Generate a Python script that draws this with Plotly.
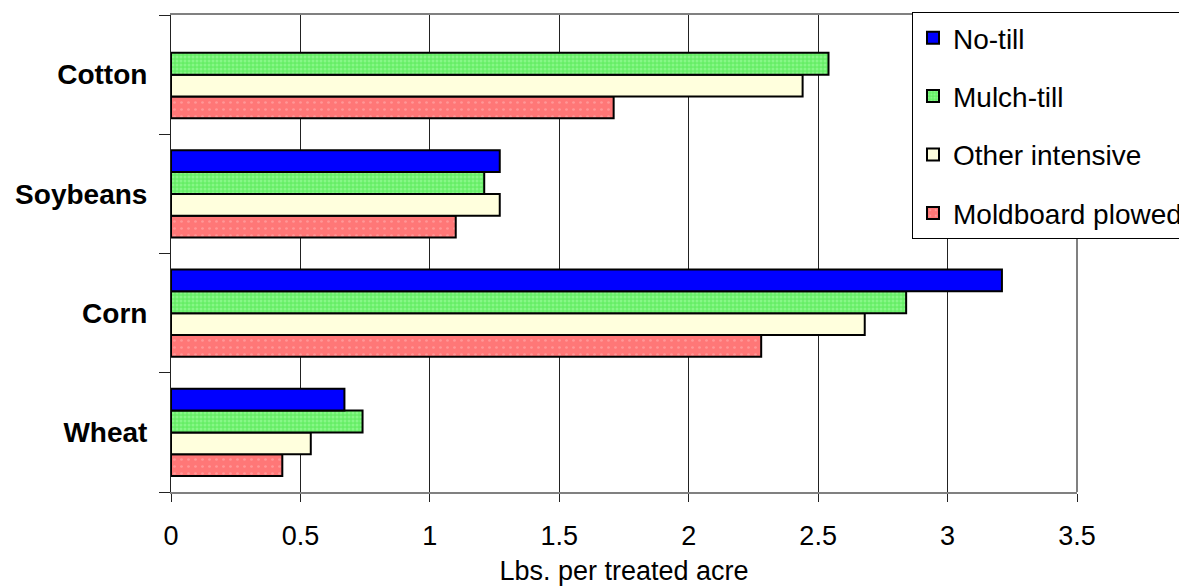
import plotly.graph_objects as go

categories = ["Wheat", "Corn", "Soybeans", "Cotton"]
series_names = ["Moldboard plowed", "Other intensive", "Mulch-till", "No-till"]
no_till = [0.67, 3.21, 1.27, None]
mulch_till = [0.74, 2.84, 1.21, 2.54]
other_intensive = [0.54, 2.68, 1.27, 2.44]
moldboard_plowed = [0.43, 2.28, 1.10, 1.71]
x_ticks = [0, 0.5, 1, 1.5, 2, 2.5, 3, 3.5]
x_tick_labels = ["0", "0.5", "1", "1.5", "2", "2.5", "3", "3.5"]

values = {
    "Moldboard plowed": moldboard_plowed,
    "Other intensive": other_intensive,
    "Mulch-till": mulch_till,
    "No-till": no_till,
}
legend_rank = {"No-till": 1, "Mulch-till": 2, "Other intensive": 3, "Moldboard plowed": 4}
styles = {
    "No-till": dict(color="#0000FF"),
    "Mulch-till": dict(color="#66F066",
                       pattern=dict(shape=".", fgcolor="#A8FFA8", bgcolor="#66EE66",
                                    size=4, solidity=0.45)),
    "Other intensive": dict(color="#FFFFDD"),
    "Moldboard plowed": dict(color="#FF7777",
                             pattern=dict(shape=".", fgcolor="#FFB8B8", bgcolor="#FF7777",
                                          size=7, solidity=0.12)),
}

fig = go.Figure()
for name in series_names:
    st = styles[name]
    marker = dict(color=st["color"], line=dict(color="black", width=2))
    if "pattern" in st:
        marker["pattern"] = st["pattern"]
    fig.add_trace(go.Bar(
        y=categories, x=values[name], name=name, orientation="h",
        marker=marker, legendgroup=name, legendrank=legend_rank[name],
    ))

# page body adds an 8px offset; margins compensate so the plot area lands at 171..1077 / 15..492
fig.update_layout(
    width=1187, height=586,
    margin=dict(l=163, r=118, t=7, b=102, autoexpand=False),
    paper_bgcolor="white", plot_bgcolor="white",
    barmode="group", bargap=0.27, bargroupgap=0,
    font=dict(family="Liberation Sans, Arial, sans-serif", size=27, color="black"),
    legend=dict(
        x=(912 - 171) / 906, xanchor="left",
        y=(492 - 12) / 477, yanchor="top",
        traceorder="grouped", tracegroupgap=19,
        bordercolor="black", borderwidth=1, bgcolor="white",
        font=dict(size=28), itemwidth=30,
    ),
    xaxis=dict(
        range=[0, 3.5], tickvals=x_ticks, ticktext=x_tick_labels,
        showgrid=True, gridcolor="#222222", gridwidth=1,
        showline=True, linecolor="#808080", linewidth=2, mirror=True,
        ticks="outside", ticklen=8, tickcolor="#222222", tickwidth=1,
        ticklabelstandoff=11, zeroline=False, automargin=False,
        title=dict(text="Lbs. per treated acre", standoff=11, font=dict(size=27)),
    ),
    yaxis=dict(
        categoryorder="array", categoryarray=categories,
        showline=True, linecolor="#222222", linewidth=1,
        ticks="outside", ticklen=11, tickcolor="#222222", tickson="boundaries",
        ticklabelstandoff=17, showgrid=False, automargin=False,
        tickfont=dict(size=28, family="Liberation Sans, Arial, sans-serif", weight="bold"),
    ),
    shapes=[dict(type="line", xref="paper", yref="paper", x0=1, x1=1, y0=0, y1=1,
                 line=dict(color="#808080", width=2))],
)

fig.write_html("out.html")
